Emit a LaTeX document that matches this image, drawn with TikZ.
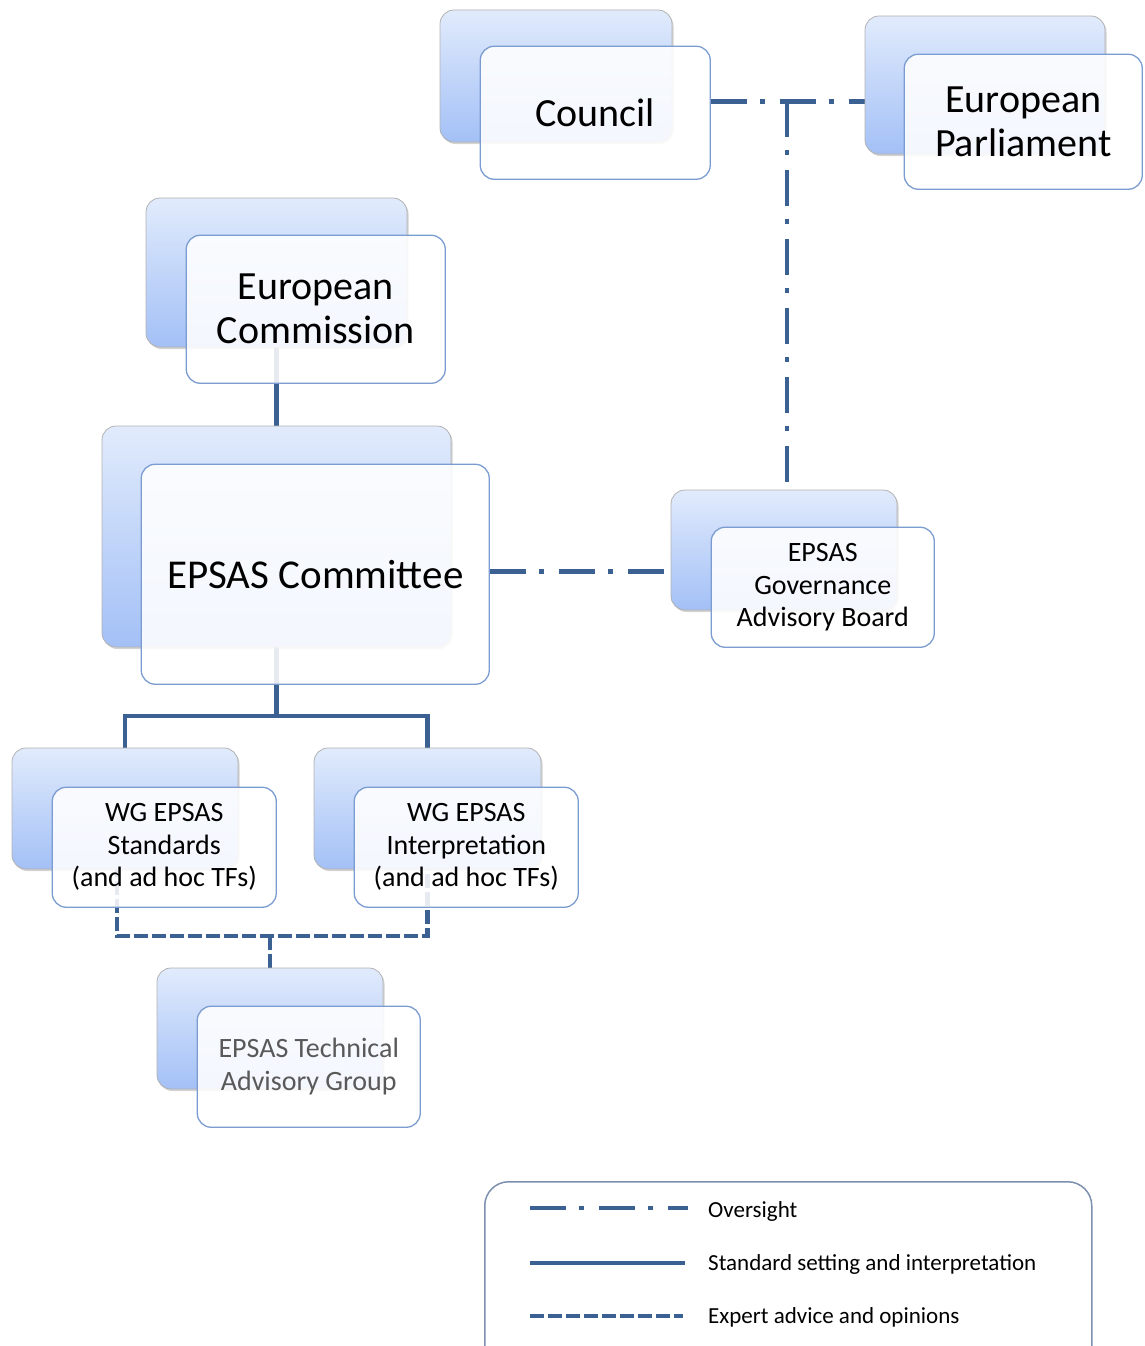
\documentclass[tikz,border=0pt]{standalone}
\usepackage{fontspec}
\setmainfont{Carlito}
\usetikzlibrary{positioning,shadows}
\definecolor{linkblue}{HTML}{3B6092}
\definecolor{frameblue}{HTML}{7B9CD1}
\definecolor{shadetop}{HTML}{E1EBFC}
\definecolor{shadebot}{HTML}{A3C0F6}
\definecolor{legendframe}{HTML}{7D8FAE}
\definecolor{greytext}{HTML}{595959}
\pgfdeclarelayer{background}
\pgfsetlayers{background,main}

\tikzset{
	backbox/.style={rectangle,rounded corners=14pt,draw=black!30,line width=0.8pt,top color=shadetop,bottom color=shadebot,drop shadow={shadow xshift=1.5pt,shadow yshift=-2pt,opacity=0.35}},
	frontbox/.style={rectangle,rounded corners=14pt,draw=frameblue,line width=1.3pt,fill=white,fill opacity=0.88,text opacity=1,align=center,inner sep=0pt,anchor=north west},
	boxsize/.style 2 args={minimum width=#1pt,minimum height=#2pt},
	bigtext/.style={font=\fontsize{40}{44}\selectfont},
	midtext/.style={font=\fontsize{28}{32.5}\selectfont},
	legendtext/.style={font=\fontsize{23}{27}\selectfont,anchor=west,inner sep=0pt},
	oversight/.style={draw=linkblue,line width=4.8pt,dash pattern=on 36pt off 13pt on 5pt off 15pt},
	setting/.style={draw=linkblue,line width=4.8pt},
	advice/.style={draw=linkblue,line width=4.8pt,dash pattern=on 14pt off 4pt}
}

\begin{document}
\begin{tikzpicture}[x=1pt,y=-1pt]
	\useasboundingbox (0,0) rectangle (1144,1346);

	% top level
	\node[backbox,boxsize={232}{132}] (councilB) at (556,76) {};
	\node[frontbox,boxsize={230}{133},bigtext] (council) at ([shift={(40,36)}]councilB.north west) {Council};
	\node[backbox,boxsize={240}{138}] (parliamentB) at (985,85) {};
	\node[frontbox,boxsize={238}{135},bigtext] (parliament) at ([shift={(39,38)}]parliamentB.north west) {European\\Parliament};

	% commission and committee
	\node[backbox,boxsize={261}{149}] (commissionB) at (276.5,272.5) {};
	\node[frontbox,boxsize={259}{148},bigtext] (commission) at ([shift={(40,37)}]commissionB.north west) {European\\Commission};
	\node[backbox,boxsize={349}{221}] (committeeB) at (276.5,536.5) {};
	\node[frontbox,boxsize={348}{220},bigtext,font=\fontsize{41}{44}\selectfont] (committee) at ([shift={(39,38)}]committeeB.north west) {EPSAS Committee};
	\node[backbox,boxsize={226}{120}] (govB) at (784,550) {};
	\node[frontbox,boxsize={223}{120},midtext] (gov) at ([shift={(40,37)}]govB.north west) {EPSAS\\Governance\\Advisory Board};

	% working groups
	\node[backbox,boxsize={226}{121}] (wgstdB) at (125,808.5) {};
	\node[frontbox,boxsize={224}{120},midtext] (wgstd) at ([shift={(40,39)}]wgstdB.north west) {WG EPSAS\\Standards\\(and ad hoc TFs)};
	\node[backbox,boxsize={227}{121}] (wgintB) at (427.5,808.5) {};
	\node[frontbox,boxsize={224}{120},midtext] (wgint) at ([shift={(40,39)}]wgintB.north west) {WG EPSAS\\Interpretation\\(and ad hoc TFs)};
	\node[backbox,boxsize={226}{121}] (techB) at (270,1028.5) {};
	\node[frontbox,boxsize={223}{121},midtext,text=greytext] (tech) at ([shift={(40,38)}]techB.north west) {EPSAS Technical\\Advisory Group};

	% connectors behind the boxes
	\begin{pgfonlayer}{background}
		\draw[oversight] ([yshift=11.5pt]council.east) coordinate (ovtop) -- (ovtop -| parliamentB.west);
		\draw[oversight] ([xshift=3pt]ovtop -| govB.north) -- ([xshift=3pt]govB.north);
		\draw[oversight] ([yshift=3pt]committee.east) coordinate (ovmid) -- (ovmid -| govB.west);
		\draw[setting] (commissionB) -- (committeeB);
		\coordinate (split) at (276.5,716);
		\draw[setting] (committeeB) -- (split);
		\draw[setting] (wgstdB) |- (split) -| (wgintB);
		\coordinate (adv) at (270,936);
		\draw[advice] ([xshift=-8pt]wgstdB.center) |- (adv) -| (wgintB);
		\draw[advice] (techB) -- (adv);
	\end{pgfonlayer}

	% legend
	\node[draw=legendframe,rounded corners=24pt,line width=1.5pt,minimum width=607pt,minimum height=200pt,anchor=north west] (legend) at (484,1181) {};
	\node[legendtext] (lgover) at (708,1211) {Oversight};
	\node[legendtext] (lgset) at (708,1264) {Standard setting and interpretation};
	\node[legendtext] (lgadv) at (708,1317) {Expert advice and opinions};
	\coordinate (lkover) at (530,1208);
	\coordinate (lkset) at (530,1263);
	\coordinate (lkadv) at (530,1316);
	\draw[oversight,shorten >=20pt] (lkover) -- (lkover -| lgover.west);
	\draw[setting,shorten >=23pt] (lkset) -- (lkset -| lgset.west);
	\draw[advice,shorten >=25pt] (lkadv) -- (lkadv -| lgadv.west);
\end{tikzpicture}
\end{document}
